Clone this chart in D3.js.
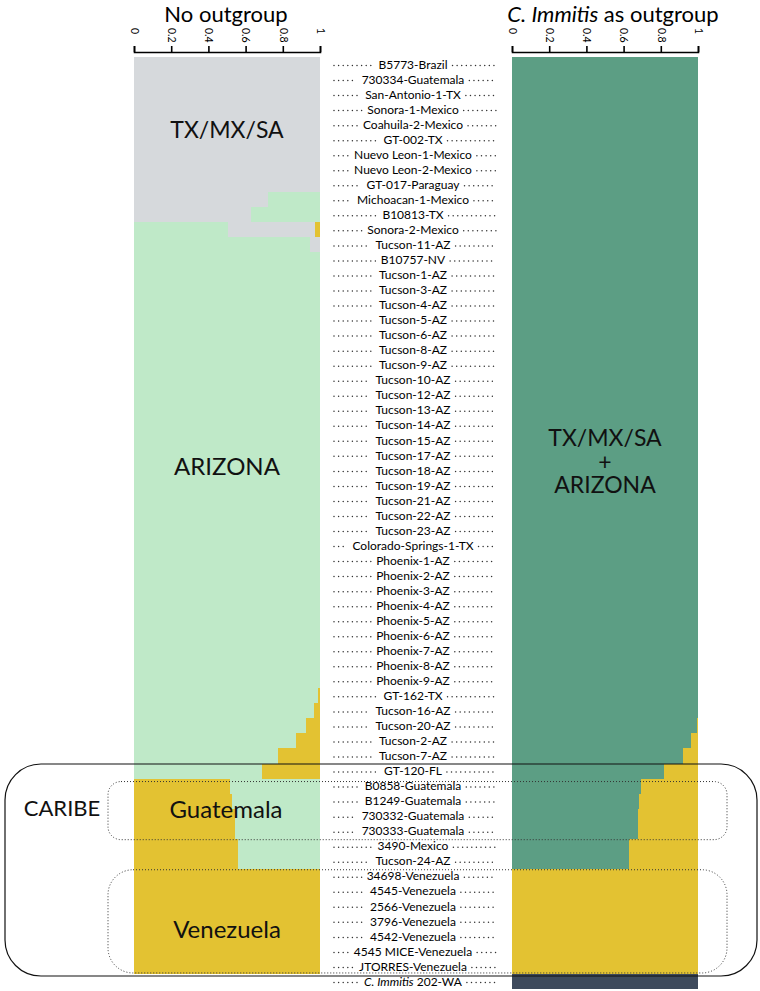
<!DOCTYPE html>
<html>
<head>
<meta charset="utf-8">
<script src="https://cdn.jsdelivr.net/npm/d3@7"></script>
<style>
  body { margin: 0; background: #fff; }
  svg { font-family: Lato, "Open Sans", sans-serif; }
  .axis path, .axis line { stroke: #000; stroke-width: 1.6; }
  .axis text { font-size: 10.5px; fill: #000; }
</style>
</head>
<body>
<svg id="chart" width="760" height="991"></svg>
<script>
// sample names, top to bottom
var samples = [
  'B5773-Brazil', '730334-Guatemala', 'San-Antonio-1-TX', 'Sonora-1-Mexico',
  'Coahuila-2-Mexico', 'GT-002-TX', 'Nuevo Leon-1-Mexico', 'Nuevo Leon-2-Mexico',
  'GT-017-Paraguay', 'Michoacan-1-Mexico', 'B10813-TX', 'Sonora-2-Mexico',
  'Tucson-11-AZ', 'B10757-NV', 'Tucson-1-AZ', 'Tucson-3-AZ', 'Tucson-4-AZ',
  'Tucson-5-AZ', 'Tucson-6-AZ', 'Tucson-8-AZ', 'Tucson-9-AZ', 'Tucson-10-AZ',
  'Tucson-12-AZ', 'Tucson-13-AZ', 'Tucson-14-AZ', 'Tucson-15-AZ', 'Tucson-17-AZ',
  'Tucson-18-AZ', 'Tucson-19-AZ', 'Tucson-21-AZ', 'Tucson-22-AZ', 'Tucson-23-AZ',
  'Colorado-Springs-1-TX', 'Phoenix-1-AZ', 'Phoenix-2-AZ', 'Phoenix-3-AZ',
  'Phoenix-4-AZ', 'Phoenix-5-AZ', 'Phoenix-6-AZ', 'Phoenix-7-AZ', 'Phoenix-8-AZ',
  'Phoenix-9-AZ', 'GT-162-TX', 'Tucson-16-AZ', 'Tucson-20-AZ', 'Tucson-2-AZ',
  'Tucson-7-AZ', 'GT-120-FL', 'B0858-Guatemala', 'B1249-Guatemala',
  '730332-Guatemala', '730333-Guatemala', '3490-Mexico', 'Tucson-24-AZ',
  '34698-Venezuela', '4545-Venezuela', '2566-Venezuela', '3796-Venezuela',
  '4542-Venezuela', '4545 MICE-Venezuela', 'JTORRES-Venezuela', 'C. Immitis 202-WA'
];

// "No outgroup" ancestry proportions
var noOutTxmxsa = [
  1, 1, 1, 1, 1, 1, 1, 1, 1, 0.72, 0.63, 0.468, 0.054, 0, 0, 0, 0, 0, 0, 0, 0, 0,
  0, 0, 0, 0, 0, 0, 0, 0, 0, 0, 0, 0, 0, 0, 0, 0, 0, 0, 0, 0, 0, 0, 0, 0, 0, 0,
  0, 0, 0, 0, 0, 0, 0, 0, 0, 0, 0, 0, 0, 0
];
var noOutArizona = [
  0, 0, 0, 0, 0, 0, 0, 0, 0, 0.28, 0.37, 0.505, 0.946, 1, 1, 1, 1, 1, 1, 1, 1, 1,
  1, 1, 1, 1, 1, 1, 1, 1, 1, 1, 1, 1, 1, 1, 1, 1, 1, 1, 1, 1, 0.99, 0.97, 0.923,
  0.87, 0.774, 0.69, 0.484, 0.475, 0.457, 0.457, 0.44, 0.44, 0, 0, 0, 0, 0, 0, 0, 0
];
var noOutCaribe = [
  0, 0, 0, 0, 0, 0, 0, 0, 0, 0, 0, 0.027, 0, 0, 0, 0, 0, 0, 0, 0, 0, 0,
  0, 0, 0, 0, 0, 0, 0, 0, 0, 0, 0, 0, 0, 0, 0, 0, 0, 0, 0, 0, 0.01, 0.03, 0.077,
  0.13, 0.226, 0.31, 0.516, 0.525, 0.543, 0.543, 0.56, 0.56, 1, 1, 1, 1, 1, 1, 1, 0
];

// "C. Immitis as outgroup" ancestry proportions
var withOutMain = [
  1, 1, 1, 1, 1, 1, 1, 1, 1, 1, 1, 1, 1, 1, 1, 1, 1, 1, 1, 1, 1, 1,
  1, 1, 1, 1, 1, 1, 1, 1, 1, 1, 1, 1, 1, 1, 1, 1, 1, 1, 1, 1, 1, 1, 0.992,
  0.96, 0.92, 0.817, 0.692, 0.685, 0.68, 0.677, 0.63, 0.63, 0, 0, 0, 0, 0, 0, 0, 0
];
var withOutCaribe = [
  0, 0, 0, 0, 0, 0, 0, 0, 0, 0, 0, 0, 0, 0, 0, 0, 0, 0, 0, 0, 0, 0,
  0, 0, 0, 0, 0, 0, 0, 0, 0, 0, 0, 0, 0, 0, 0, 0, 0, 0, 0, 0, 0, 0, 0.008,
  0.04, 0.08, 0.183, 0.308, 0.315, 0.32, 0.323, 0.37, 0.37, 1, 1, 1, 1, 1, 1, 1, 0
];
var withOutImmitis = [
  0, 0, 0, 0, 0, 0, 0, 0, 0, 0, 0, 0, 0, 0, 0, 0, 0, 0, 0, 0, 0, 0,
  0, 0, 0, 0, 0, 0, 0, 0, 0, 0, 0, 0, 0, 0, 0, 0, 0, 0, 0, 0, 0, 0, 0,
  0, 0, 0, 0, 0, 0, 0, 0, 0, 0, 0, 0, 0, 0, 0, 0, 1
];

var tickValues = [0, 0.2, 0.4, 0.6, 0.8, 1];

var colors = {
  txmxsa: '#d6d9dc',
  arizona: '#bfe9c8',
  caribe: '#e3c232',
  main: '#5c9e84',
  immitis: '#3e4a5c'
};

var svg = d3.select('#chart');

// Scales
var y = d3.scaleBand().domain(samples).range([57, 989]).padding(0);
var xLeft = d3.scaleLinear().domain([0, 1]).range([134, 320]);
var xRight = d3.scaleLinear().domain([0, 1]).range([512, 698]);

// turn per-cluster arrays into per-row stacked segments (largest first)
function buildRows(series) {
  return samples.map(function(name, i) {
    var segs = series.map(function(s) { return { key: s.key, value: s.values[i] }; })
      .filter(function(s) { return s.value > 0; });
    segs.sort(function(a, b) { return b.value - a.value; });
    var acc = 0;
    segs.forEach(function(s) { s.x0 = acc; acc += s.value; s.x1 = acc; });
    return { name: name, segs: segs };
  });
}

function drawPanel(rows, x, title, italicPart, titleX) {
  var g = svg.append('g');
  var row = g.selectAll('.row')
    .data(rows)
    .enter().append('g')
    .attr('class', 'row');
  row.selectAll('rect')
    .data(function(d) { return d.segs.map(function(s) { s.name = d.name; return s; }); })
    .enter().append('rect')
    .attr('x', function(d) { return x(d.x0); })
    .attr('width', function(d) { return x(d.x1) - x(d.x0); })
    .attr('y', function(d) { return y(d.name); })
    .attr('height', y.bandwidth() + 0.3)
    .attr('fill', function(d) { return colors[d.key]; })
    .attr('shape-rendering', 'crispEdges');

  // axis on top, rotated tick labels
  var axis = d3.axisTop(x)
    .tickValues(tickValues)
    .tickSize(6)
    .tickSizeOuter(6)
    .tickFormat(function(d) { return (d === 0 || d === 1) ? d : d3.format('.1f')(d); });
  var ax = svg.append('g')
    .attr('class', 'axis')
    .attr('transform', 'translate(0,52)')
    .call(axis);
  ax.selectAll('text')
    .attr('x', 0).attr('y', 0).attr('dy', '0.35em')
    .attr('transform', 'translate(0,-24) rotate(90)')
    .style('text-anchor', 'start')
    .style('font-family', 'Lato, sans-serif');

  // Title
  var t = svg.append('text')
    .attr('x', titleX).attr('y', 21.5)
    .attr('text-anchor', 'middle')
    .style('font-size', '22px');
  if (italicPart) {
    t.append('tspan').style('font-style', 'italic').text(italicPart);
    t.append('tspan').text(title);
  } else {
    t.text(title);
  }
}

drawPanel(buildRows([
  { key: 'txmxsa', values: noOutTxmxsa },
  { key: 'arizona', values: noOutArizona },
  { key: 'caribe', values: noOutCaribe }
]), xLeft, 'No outgroup', null, 226);

drawPanel(buildRows([
  { key: 'main', values: withOutMain },
  { key: 'caribe', values: withOutCaribe },
  { key: 'immitis', values: withOutImmitis }
]), xRight, ' as outgroup', 'C. Immitis', 613);

// sample labels with dotted leaders
var labelX = 413, dotL = 334, dotR = 496;
var labels = svg.append('g');
samples.forEach(function(name) {
  var cy = y(name) + y.bandwidth() / 2;
  var t = labels.append('text')
    .attr('x', labelX).attr('y', cy).attr('dy', '0.35em')
    .attr('text-anchor', 'middle')
    .style('font-size', '12px')
    .style('fill', '#000');
  if (name.indexOf('C. Immitis') === 0) {
    t.append('tspan').style('font-style', 'italic').text('C. Immitis');
    t.append('tspan').text(name.slice(10));
  } else {
    t.text(name);
  }
  var w = t.node().getComputedTextLength();
  var lead = [[dotL, labelX - w / 2 - 5], [labelX + w / 2 + 5, dotR]];
  lead.forEach(function(p) {
    if (p[1] - p[0] < 2) return;
    labels.append('line')
      .attr('x1', p[0]).attr('x2', p[1])
      .attr('y1', cy + 1).attr('y2', cy + 1)
      .attr('stroke', '#333')
      .attr('stroke-width', 1.5)
      .attr('stroke-linecap', 'round')
      .attr('stroke-dasharray', '0 4.6');
  });
});

// cluster names
function clusterLabel(x, yy, txt, size) {
  svg.append('text')
    .attr('x', x).attr('y', yy).attr('dy', '0.35em')
    .attr('text-anchor', 'middle')
    .style('font-size', (size || 24) + 'px')
    .style('fill', '#111')
    .text(txt);
}
var lc = (xLeft.range()[0] + xLeft.range()[1]) / 2;
var rc = (xRight.range()[0] + xRight.range()[1]) / 2;
clusterLabel(lc, 130, 'TX/MX/SA', 23);
clusterLabel(lc, 467, 'ARIZONA');
clusterLabel(lc - 1, 810, 'Guatemala');
clusterLabel(lc, 930, 'Venezuela');
clusterLabel(62, 808, 'CARIBE', 22);

// right panel: one multi-line label
var merged = svg.append('text')
  .attr('text-anchor', 'middle')
  .style('font-size', '23px')
  .style('fill', '#111');
['TX/MX/SA', '+', 'ARIZONA'].forEach(function(line, i) {
  merged.append('tspan')
    .attr('x', rc)
    .attr('y', 438 + i * 23.5)
    .attr('dy', '0.35em')
    .text(line);
});

// group boxes
var caribeTop = y('GT-120-FL') + 0.5;
svg.append('rect')
  .attr('x', 5).attr('y', caribeTop)
  .attr('width', 752).attr('height', 976 - caribeTop)
  .attr('rx', 36).attr('ry', 36)
  .attr('fill', 'none').attr('stroke', '#111').attr('stroke-width', 1.2);

var guaTop = y('B0858-Guatemala') + 3;
var guaBot = y('3490-Mexico') + 1;
svg.append('rect')
  .attr('x', 108).attr('y', guaTop)
  .attr('width', 619).attr('height', guaBot - guaTop)
  .attr('rx', 13).attr('ry', 13)
  .attr('fill', 'none').attr('stroke', '#333').attr('stroke-width', 1)
  .attr('stroke-dasharray', '1 2');

var venTop = y('34698-Venezuela') + 1;
var venBot = y('C. Immitis 202-WA') - 1;
svg.append('rect')
  .attr('x', 108).attr('y', venTop)
  .attr('width', 619).attr('height', venBot - venTop)
  .attr('rx', 25).attr('ry', 25)
  .attr('fill', 'none').attr('stroke', '#333').attr('stroke-width', 1)
  .attr('stroke-dasharray', '1 2');
</script>
</body>
</html>
